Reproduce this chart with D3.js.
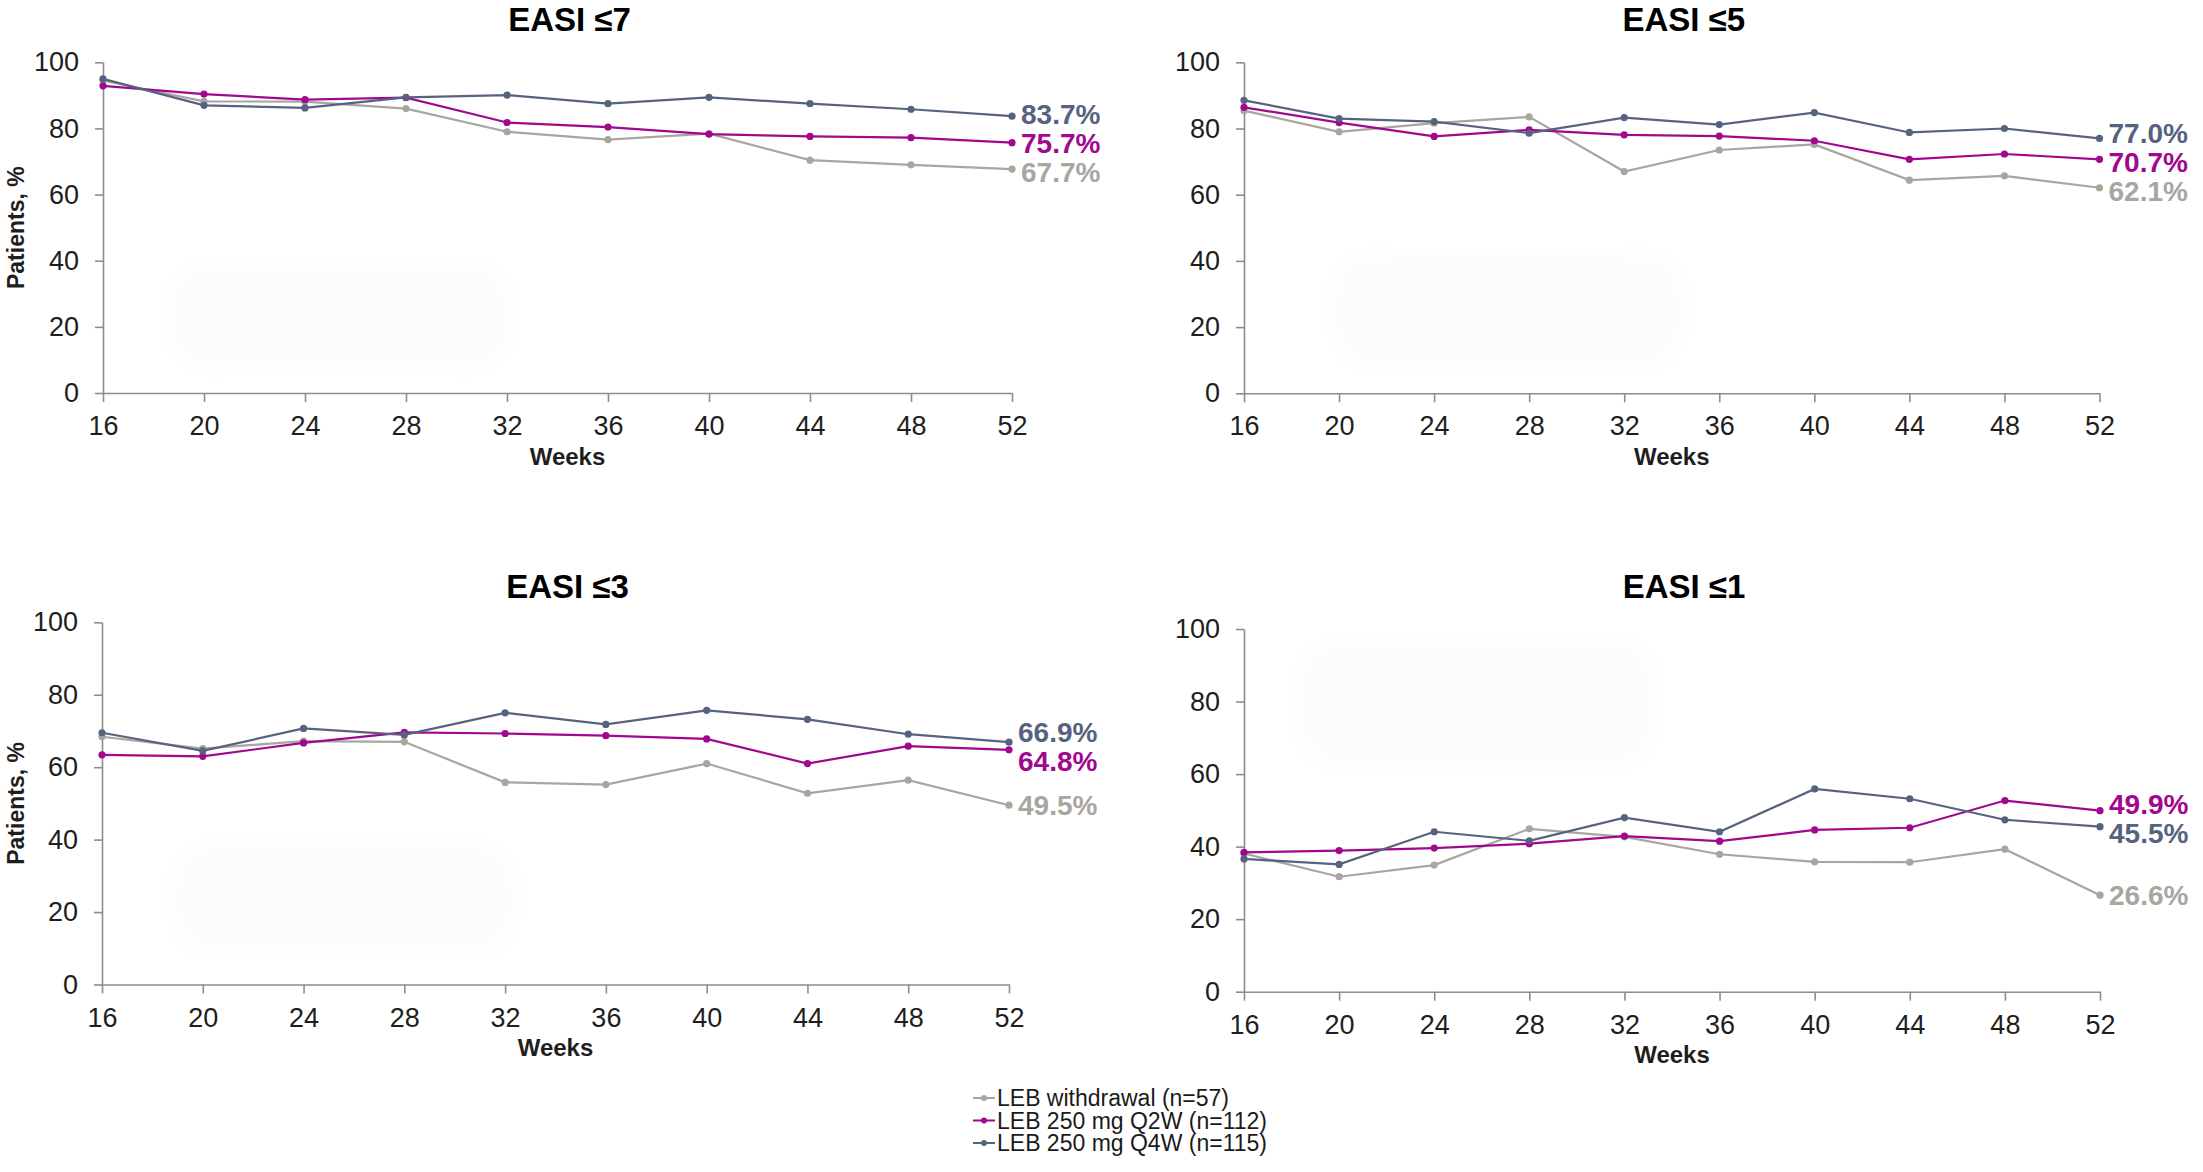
<!DOCTYPE html>
<html>
<head>
<meta charset="utf-8">
<script src="https://cdn.jsdelivr.net/npm/d3@7"></script>
<style>
  body { margin: 0; background: #fff; }
  svg { display: block; font-family: "Liberation Sans", Arial, sans-serif; }
</style>
</head>
<body>
<div id="chart"></div>
<script>
// weeks on the x axis
const weeks = [16, 20, 24, 28, 32, 36, 40, 44, 48, 52]
const yTicks = [0, 20, 40, 60, 80, 100]
const panelTitles = ["EASI \u22647", "EASI \u22645", "EASI \u22643", "EASI \u22641"]
const seriesNames = ["LEB withdrawal (n=57)", "LEB 250 mg Q2W (n=112)", "LEB 250 mg Q4W (n=115)"]

// EASI <=7
const easi7Withdrawal = [94.5, 88.2, 88.1, 86.0, 79.0, 76.6, 78.4, 70.4, 69.0, 67.7]
const easi7Q2W = [92.9, 90.4, 88.7, 89.3, 81.8, 80.4, 78.3, 77.6, 77.2, 75.7]
const easi7Q4W = [95.0, 87.0, 86.2, 89.4, 90.1, 87.5, 89.4, 87.5, 85.8, 83.7]

// EASI <=5
const easi5Withdrawal = [85.4, 79.0, 81.6, 83.5, 67.0, 73.5, 75.2, 64.4, 65.7, 62.1]
const easi5Q2W = [86.4, 81.8, 77.6, 79.6, 78.1, 77.7, 76.3, 70.7, 72.3, 70.7]
const easi5Q4W = [88.5, 83.0, 82.1, 78.6, 83.3, 81.2, 84.8, 78.8, 80.0, 77.0]

// EASI <=3
const easi3Withdrawal = [68.4, 65.1, 67.2, 67.0, 55.8, 55.2, 61.0, 52.8, 56.4, 49.5]
const easi3Q2W = [63.4, 63.0, 66.7, 69.6, 69.3, 68.7, 67.8, 61.0, 65.8, 64.8]
const easi3Q4W = [69.5, 64.5, 70.7, 68.9, 75.0, 71.8, 75.7, 73.2, 69.1, 66.9]

// EASI <=1
const easi1Withdrawal = [38.1, 31.7, 34.9, 44.9, 42.7, 37.9, 35.8, 35.7, 39.3, 26.6]
const easi1Q2W = [38.4, 38.9, 39.6, 40.8, 42.9, 41.5, 44.6, 45.2, 52.7, 49.9]
const easi1Q4W = [36.6, 35.1, 44.1, 41.6, 48.0, 44.1, 55.9, 53.2, 47.4, 45.5]

const panelData = [
    [easi7Withdrawal, easi7Q2W, easi7Q4W],
    [easi5Withdrawal, easi5Q2W, easi5Q4W],
    [easi3Withdrawal, easi3Q2W, easi3Q4W],
    [easi1Withdrawal, easi1Q2W, easi1Q4W]
]

const colors = ["#a9a59f", "#a1078f", "#56627f"]

const W = 2203, H = 1172

// plot boxes (left, right, top, bottom) + title baseline
const layout = [
    {x0: 103, x1: 1012, top: 62.3, bottom: 393, titleY: 31, weeksDx: 10, yTitle: true},
    {x0: 1244, x1: 2099.5, top: 62.3, bottom: 393.3, titleY: 31, weeksDx: 0, yTitle: false},
    {x0: 102, x1: 1009, top: 622.3, bottom: 984.5, titleY: 598, weeksDx: 0, yTitle: true},
    {x0: 1244, x1: 2100, top: 629, bottom: 991.7, titleY: 598, weeksDx: 0, yTitle: false}
]

// faint background smudges seen in the original
const smudges = [
    [168, 263, 344, 107], [1332, 253, 352, 114],
    [172, 843, 344, 110], [1297, 640, 359, 127]
]

const svg = d3.select("#chart").append("svg")
    .attr("width", W)
    .attr("height", H)

let defs = svg.append("defs")
defs.append("filter").attr("id", "soft")
    .append("feGaussianBlur").attr("stdDeviation", 10)

svg.selectAll("rect.smudge")
    .data(smudges)
    .join("rect")
    .attr("class", "smudge")
    .attr("x", d => d[0]).attr("y", d => d[1])
    .attr("width", d => d[2]).attr("height", d => d[3])
    .attr("rx", 40)
    .attr("fill", "#fcfcfc")
    .attr("filter", "url(#soft)")

layout.forEach((box, pi) => {
    let x = d3.scaleLinear().domain([16, 52]).range([box.x0, box.x1])
    let y = d3.scaleLinear().domain([0, 100]).range([box.bottom, box.top])
    let g = svg.append("g")

    // y axis
    let yAxis = g.append("g")
        .attr("transform", `translate(${box.x0},0)`)
        .call(d3.axisLeft(y).tickValues(yTicks).tickSize(8).tickSizeOuter(0).tickPadding(16))
    // x axis
    let xAxis = g.append("g")
        .attr("transform", `translate(0,${box.bottom})`)
        .call(d3.axisBottom(x).tickValues(weeks).tickSize(9).tickSizeOuter(0).tickPadding(14))

    ;[yAxis, xAxis].forEach(a => {
        a.selectAll("path, line").attr("stroke", "#8d8d8d").attr("stroke-width", 1.6)
        a.selectAll("text")
            .attr("fill", "#1e1e1e")
            .style("font-size", "27px")
            .style("font-family", "'Liberation Sans', Arial, sans-serif")
    })

    // title
    g.append("text")
        .attr("x", (box.x0 + box.x1) / 2 + 12)
        .attr("y", box.titleY)
        .attr("text-anchor", "middle")
        .style("font-size", "33px")
        .style("font-weight", "bold")
        .text(panelTitles[pi])

    g.append("text")
        .attr("x", (box.x0 + box.x1) / 2 + box.weeksDx)
        .attr("y", box.bottom + 63)
        .attr("dy", "0.36em")
        .attr("text-anchor", "middle")
        .style("font-size", "24px")
        .style("font-weight", "bold")
        .attr("fill", "#1e1e1e")
        .text("Weeks")

    if (box.yTitle) {
        g.append("text")
            .attr("transform", `translate(16,${(box.top + box.bottom) / 2}) rotate(-90)`)
            .attr("dy", "0.36em")
            .attr("text-anchor", "middle")
            .style("font-size", "23px")
            .style("font-weight", "bold")
            .attr("fill", "#1e1e1e")
            .text("Patients, %")
    }

    let line = d3.line()
        .x((d, i) => x(weeks[i]))
        .y(d => y(d))

    panelData[pi].forEach((vals, si) => {
        g.append("path")
            .datum(vals)
            .attr("d", line)
            .attr("fill", "none")
            .attr("stroke", colors[si])
            .attr("stroke-width", 2.2)
        g.selectAll(null)
            .data(vals)
            .join("circle")
            .attr("cx", (d, i) => x(weeks[i]))
            .attr("cy", d => y(d))
            .attr("r", 3.6)
            .attr("fill", colors[si])
    })

    // end labels, pushed apart so they don't overlap
    let labels = panelData[pi].map((vals, si) => {
        let v = vals[vals.length - 1]
        return {si: si, v: v, y: y(v)}
    }).sort((a, b) => a.y - b.y)
    let minGap = 29
    for (let k = 0; k < 4; k++) {
        for (let j = 1; j < labels.length; j++) {
            let gap = labels[j].y - labels[j - 1].y
            if (gap < minGap) {
                let d = (minGap - gap) / 2
                labels[j - 1].y -= d
                labels[j].y += d
            }
        }
    }
    g.selectAll("text.endlabel")
        .data(labels)
        .join("text")
        .attr("class", "endlabel")
        .attr("x", box.x1 + 9)
        .attr("y", d => d.y)
        .attr("dy", "0.36em")
        .attr("fill", d => colors[d.si])
        .style("font-size", "28px")
        .style("font-weight", "bold")
        .text(d => d.v.toFixed(1) + "%")
})

// legend
let legend = svg.append("g")
let rowY = [1098, 1120.5, 1143]
seriesNames.forEach((name, i) => {
    let row = legend.append("g").attr("transform", `translate(973,${rowY[i]})`)
    row.append("line")
        .attr("x1", 0).attr("x2", 22)
        .attr("stroke", colors[i]).attr("stroke-width", 2)
    row.append("circle")
        .attr("cx", 11).attr("r", 3)
        .attr("fill", colors[i])
    row.append("text")
        .attr("x", 24)
        .attr("dy", "0.36em")
        .style("font-size", "23px")
        .attr("fill", "#1a1a1a")
        .text(name)
})
</script>
</body>
</html>
